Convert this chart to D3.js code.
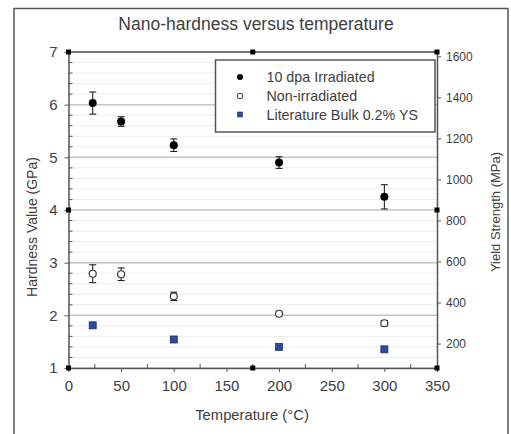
<!DOCTYPE html>
<html>
<head>
<meta charset="utf-8">
<script src="https://cdn.jsdelivr.net/npm/d3@7"></script>
<style>
  body { margin: 0; background: #fff; }
  text { font-family: "Liberation Sans", Arial, sans-serif; fill: #404040; }
</style>
</head>
<body>
<div id="container"></div>
<script>
const temps = [23, 50, 100, 200, 300];
const irradiated = [6.03, 5.68, 5.23, 4.90, 4.25];
const irradiatedErr = [0.21, 0.09, 0.12, 0.11, 0.23];
const nonIrradiated = [2.79, 2.78, 2.36, 2.03, 1.85];
const nonIrradiatedErr = [0.17, 0.12, 0.08, 0.0, 0.05];
const litTemps = [23, 100, 200, 300];
const litYS = [289, 220, 184, 172];
const xTicks = [0, 50, 100, 150, 200, 250, 300, 350];
const yTicks = [1, 2, 3, 4, 5, 6, 7];
const y2Ticks = [200, 400, 600, 800, 1000, 1200, 1400, 1600];
const legendLabels = ["10 dpa Irradiated", "Non-irradiated", "Literature Bulk 0.2% YS"];

const width = 511, height = 434;
const svg = d3.select("#container").append("svg")
  .attr("width", width).attr("height", height);

svg.append("rect").attr("width", width).attr("height", height).attr("fill", "#fff");
// outer frame (bottom is cut off in the picture)
svg.append("rect")
  .attr("x", 14).attr("y", 8.5).attr("width", 494).attr("height", 440)
  .attr("fill", "none").attr("stroke", "#555").attr("stroke-width", 1.5);

const x = d3.scaleLinear([0, 350], [68.5, 437]);
const y = d3.scaleLinear([1, 7], [368, 52]);
const y2 = d3.scaleLinear([81, 1621], [368, 52]);

// gridlines
const minor = d3.range(1, 7.001, 0.2).filter(v => Math.abs(v - Math.round(v)) > 0.01);
svg.append("g").selectAll("line").data(minor).join("line")
  .attr("x1", x(0)).attr("x2", x(350))
  .attr("y1", d => y(d)).attr("y2", d => y(d))
  .attr("stroke", "#ececec").attr("stroke-width", 1);
svg.append("g").selectAll("line").data(yTicks).join("line")
  .attr("x1", x(0)).attr("x2", x(350))
  .attr("y1", d => y(d)).attr("y2", d => y(d))
  .attr("stroke", "#c4c4c4").attr("stroke-width", 1.5);

// minor ticks pointing inward
svg.append("g").selectAll("line").data(minor).join("line")
  .attr("x1", x(0)).attr("x2", x(0) + 4)
  .attr("y1", d => y(d)).attr("y2", d => y(d))
  .attr("stroke", "#555");
svg.append("g").selectAll("line").data(d3.range(25, 350, 50)).join("line")
  .attr("x1", d => x(d)).attr("x2", d => x(d))
  .attr("y1", y(1)).attr("y2", y(1) - 4)
  .attr("stroke", "#555");

const styleAxis = (g, size) => {
  g.select(".domain").attr("stroke", "#555").attr("stroke-width", 1.5);
  g.selectAll(".tick line").attr("stroke", "#555");
  g.selectAll(".tick text").attr("fill", "#404040")
    .style("font-family", '"Liberation Sans", Arial, sans-serif').style("font-size", size + "px");
};

svg.append("g").attr("transform", `translate(${x(0)},0)`)
  .call(d3.axisLeft(y).tickValues(yTicks).tickSize(4).tickSizeOuter(0).tickPadding(7).tickFormat(d3.format("d")))
  .call(g => styleAxis(g, 15));
svg.append("g").attr("transform", `translate(0,${y(1)})`)
  .call(d3.axisBottom(x).tickValues(xTicks).tickSize(4).tickSizeOuter(0).tickPadding(8).tickFormat(d3.format("d")))
  .call(g => styleAxis(g, 15));
svg.append("g").attr("transform", `translate(${x(350)},0)`)
  .call(d3.axisRight(y2).tickValues(y2Ticks).tickSize(4).tickSizeOuter(0).tickPadding(5).tickFormat(d3.format("d")))
  .call(g => styleAxis(g, 12));
// top border
svg.append("line")
  .attr("x1", x(0)).attr("x2", x(350)).attr("y1", y(7)).attr("y2", y(7))
  .attr("stroke", "#555").attr("stroke-width", 1.5);

// black corner markers
const corners = [[0, 7], [175, 7], [350, 7], [0, 1], [175, 1], [350, 1], [0, 4], [350, 4]];
svg.append("g").selectAll("rect").data(corners).join("rect")
  .attr("x", d => x(d[0]) - 2.5).attr("y", d => y(d[1]) - 2.5)
  .attr("width", 5).attr("height", 5).attr("fill", "#000");

// error bars
const errorBars = (vals, errs) => {
  const g = svg.append("g").attr("stroke", "#111").attr("stroke-width", 1);
  temps.forEach((t, i) => {
    if (!errs[i]) return;
    const x0 = x(t), top = y(vals[i] + errs[i]), bot = y(vals[i] - errs[i]);
    g.append("line").attr("x1", x0).attr("x2", x0).attr("y1", top).attr("y2", bot);
    g.append("line").attr("x1", x0 - 3.5).attr("x2", x0 + 3.5).attr("y1", top).attr("y2", top);
    g.append("line").attr("x1", x0 - 3.5).attr("x2", x0 + 3.5).attr("y1", bot).attr("y2", bot);
  });
};
errorBars(irradiated, irradiatedErr);
errorBars(nonIrradiated, nonIrradiatedErr);

svg.append("g").selectAll("circle").data(temps).join("circle")
  .attr("cx", d => x(d)).attr("cy", (d, i) => y(irradiated[i])).attr("r", 4)
  .attr("fill", "#000");
svg.append("g").selectAll("circle").data(temps).join("circle")
  .attr("cx", d => x(d)).attr("cy", (d, i) => y(nonIrradiated[i])).attr("r", 3.5)
  .attr("fill", "#fff").attr("stroke", "#333").attr("stroke-width", 1.2);
svg.append("g").selectAll("rect").data(litTemps).join("rect")
  .attr("x", d => x(d) - 3.5).attr("y", (d, i) => y2(litYS[i]) - 3.5)
  .attr("width", 7).attr("height", 7)
  .attr("fill", "#2b4d9e").attr("stroke", "#1c2f66").attr("stroke-width", 0.8);

// legend
const legend = svg.append("g");
legend.append("rect")
  .attr("x", 215.5).attr("y", 60).attr("width", 219.5).attr("height", 72)
  .attr("fill", "#fff").attr("stroke", "#555").attr("stroke-width", 1.5);
const rowY = [77, 96, 114.5];
legend.append("circle").attr("cx", 240).attr("cy", rowY[0]).attr("r", 3).attr("fill", "#000");
legend.append("circle").attr("cx", 240).attr("cy", rowY[1]).attr("r", 2.8)
  .attr("fill", "#fff").attr("stroke", "#333").attr("stroke-width", 1);
legend.append("rect").attr("x", 237.5).attr("y", rowY[2] - 2.5).attr("width", 5).attr("height", 5)
  .attr("fill", "#2b4d9e").attr("stroke", "#1c2f66").attr("stroke-width", 0.6);
legend.selectAll("text").data(legendLabels).join("text")
  .attr("x", 266.5).attr("y", (d, i) => rowY[i] + 5)
  .style("font-size", "14.3px").text(d => d);

// titles
svg.append("text").attr("x", 256).attr("y", 30).attr("text-anchor", "middle")
  .style("font-size", "17.5px").text("Nano-hardness versus temperature");
svg.append("text").attr("transform", "translate(37,227) rotate(-90)").attr("text-anchor", "middle")
  .style("font-size", "14px").text("Hardness Value (GPa)");
svg.append("text").attr("transform", "translate(500,212) rotate(-90)").attr("text-anchor", "middle")
  .style("font-size", "13px").text("Yield Strength (MPa)");
svg.append("text").attr("x", 252).attr("y", 420).attr("text-anchor", "middle")
  .style("font-size", "14.8px").text("Temperature (°C)");
</script>
</body>
</html>
